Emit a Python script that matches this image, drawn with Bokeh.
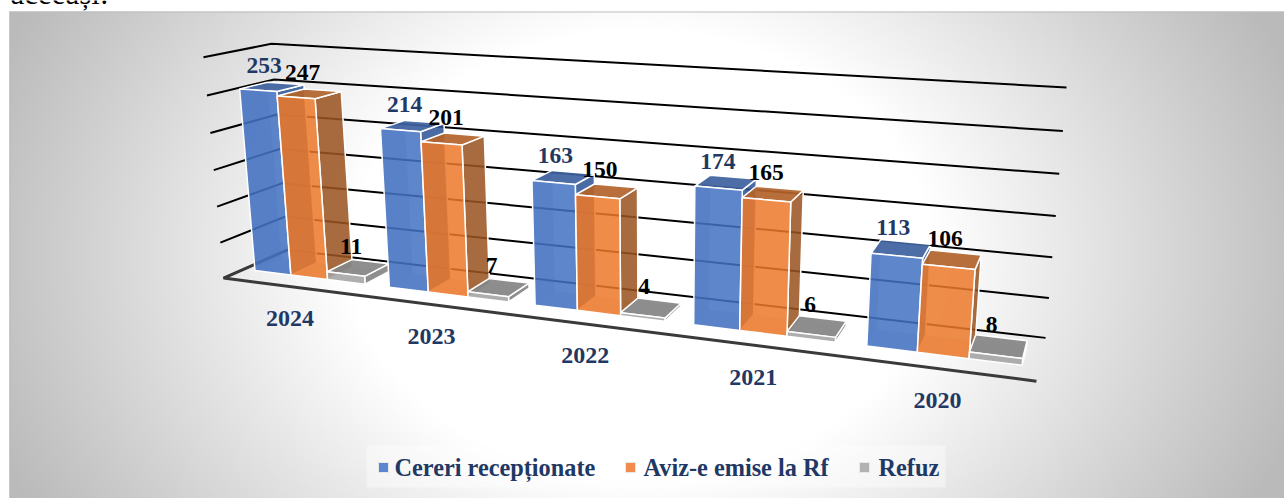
import numpy as np
from bokeh.plotting import figure
from bokeh.models import Range1d, ColumnDataSource
from bokeh.core.properties import value
from bokeh.embed import file_html
from bokeh.resources import INLINE

# ---- data
categories = ["2024", "2023", "2022", "2021", "2020"]
cereri = [253, 214, 163, 174, 113]
avize = [247, 201, 150, 165, 106]
refuz = [11, 7, 4, 6, 8]
legend_labels = ["Cereri recepționate", "Aviz-e emise la Rf", "Refuz"]
value_ticks = [0, 50, 100, 150, 200, 250, 300]

# ---- 3D camera: maps (category share, value share, depth share) to the page
W, H = 1284, 498
VMAX = 300.0
anchors3d = [(0,0,0),(1,0,0),(0,0,1),(1,0,1),(0,1,0),(0,1,1),(1,1,1)]
anchors2d = [(223,277),(1036,381),(287,250),(1045,337),(203,57),(271,43),(1066,87)]
A, b = [], []
for (X,Y,Z),(sx,sy) in zip(anchors3d, anchors2d):
    A.append([X,Y,Z,1,0,0,0,0,-sx*X,-sx*Y,-sx*Z]); b.append(sx)
    A.append([0,0,0,0,X,Y,Z,1,-sy*X,-sy*Y,-sy*Z]); b.append(sy)
m = np.linalg.lstsq(np.array(A,float), np.array(b,float), rcond=None)[0]
P = np.append(m,1.0).reshape(3,4)

def proj(u, v, d):
    q = P @ np.array([u, v/VMAX, d, 1.0])
    return q[0]/q[2], q[1]/q[2]

D0, D1 = 0.30, 0.72
NCAT = len(categories)
GAP = 0.175
BW = (1-GAP)/3

styles_s = [
    dict(front="#4472C4", side="#2F5597", top="#3F629E", inner="#2F5597", legend="#5B86CF", dx=-8),
    dict(front="#ED7A2C", side="#9A5522", top="#B2642C", inner="#A85A24", legend="#F18C4E", dx=-7),
    dict(front="#A5A5A5", side="#808080", top="#858585", inner="#808080", legend="#B2B2B2", dx=-7),
]

p = figure(width=W, height=H, output_backend="svg", toolbar_location=None,
           x_range=Range1d(0, W), y_range=Range1d(H, 0), min_border=0,
           styles={"position": "absolute", "left": "0px", "top": "0px"})
p.axis.visible = False
p.grid.visible = False
p.outline_line_color = None
p.background_fill_color = "white"
p.border_fill_color = "white"

# ---- background gradient
gx0, gy0 = 9, 11
gw, gh = W-gx0, H-gy0
yy, xx = np.mgrid[0:gh:2, 0:gw:2]
yy = yy + gy0; xx = xx + gx0
r = np.sqrt(((xx-640)/640.0)**2 + ((yy-254)/492.0)**2)
g = np.clip(255 - (r-0.46)*110, 186, 255).astype(np.uint32)
img = (255 << 24) | (g << 16) | (g << 8) | g
p.image_rgba(image=[img.astype(np.uint32)], x=gx0, y=gy0, dw=gw, dh=gh)
p.segment(x0=[gx0], y0=[11.5], x1=[W], y1=[11.5], line_color="#BDBDBD", line_width=1)
p.segment(x0=[gx0+0.5], y0=[11], x1=[gx0+0.5], y1=[H], line_color="#B8B8B8", line_width=1)

# ---- walls
for t_ in value_ticks:
    a = proj(0,t_,0); b_ = proj(0,t_,1); c = proj(1,t_,1)
    p.line([a[0],b_[0],c[0]],[a[1],b_[1],c[1]], line_color="#000000", line_width=2)
a = proj(0,0,1); b_ = proj(0,0,0); c = proj(1,0,0)
p.line([a[0],b_[0],c[0]],[a[1],b_[1],c[1]], line_color="#3A3A3A", line_width=3)

# ---- bars
series = [cereri, avize, refuz]
xs, ys, fills, falpha, lalpha = [], [], [], [], []
def face(pts, col, fa, la):
    q = [proj(*t_) for t_ in pts]
    xs.append([k[0] for k in q]); ys.append([k[1] for k in q]); fills.append(col)
    falpha.append(fa); lalpha.append(la)

for i in range(NCAT):
    for s, vals in enumerate(series):
        u0 = (i + GAP/2 + s*BW)/NCAT
        u1 = u0 + BW/NCAT
        v = vals[i]
        c = styles_s[s]
        face([(u0,0,D0),(u1,0,D0),(u1,0,D1),(u0,0,D1)], c["inner"], 0.25, 0)
        face([(u0,0,D1),(u1,0,D1),(u1,v,D1),(u0,v,D1)], c["inner"], 0.12, 0)
        face([(u0,0,D0),(u0,0,D1),(u0,v,D1),(u0,v,D0)], c["inner"], 0.3, 0)
        face([(u1,0,D0),(u1,0,D1),(u1,v,D1),(u1,v,D0)], c["side"], 0.85, 1)
        face([(u0,v,D0),(u1,v,D0),(u1,v,D1),(u0,v,D1)], c["top"], 0.92, 1)
        face([(u0,0,D0),(u1,0,D0),(u1,v,D0),(u0,v,D0)], c["front"], 0.84, 1)
p.patches(xs="xs", ys="ys", fill_color="fills", fill_alpha="fa", line_color="white", line_alpha="la",
          line_width=1.5, source=ColumnDataSource(dict(xs=xs, ys=ys, fills=fills, fa=falpha, la=lalpha)))

# ---- labels
SERIF = value("Liberation Serif")
lx, ly, lt, lc = [], [], [], []
for i in range(NCAT):
    for s, vals in enumerate(series):
        u = (i + GAP/2 + (s+0.5)*BW)/NCAT
        a = proj(u, vals[i], (D0+D1)/2)
        lx.append(a[0]+styles_s[s]["dx"]); ly.append(a[1]-14); lt.append(str(vals[i]))
        lc.append("#1F3864" if s == 0 else "#000000")
p.text(x="x", y="y", text="t", text_color="c", text_font=SERIF, text_font_style="bold",
       text_font_size="23.5px", text_align="center", text_baseline="bottom",
       source=ColumnDataSource(dict(x=lx, y=ly, t=lt, c=lc)))

cx, cy = [], []
for i in range(NCAT):
    a = proj((i+0.5)/NCAT, 0, 0)
    cx.append(a[0]); cy.append(a[1]+32)
p.text(x="x", y="y", text="t", text_color="#1F3864", text_font=SERIF, text_font_style="bold",
       text_font_size="24px", text_align="center", text_baseline="middle",
       source=ColumnDataSource(dict(x=cx, y=cy, t=categories)))

# ---- legend
p.quad(left=[366], right=[945], top=[445], bottom=[487], fill_color="white", fill_alpha=0.4, line_color=None)
sw_x = [378, 625, 859]
tx_x = [394, 643, 878]
leg_cols = [c["legend"] for c in styles_s]
p.rect(x=[k+5 for k in sw_x], y=[467]*3, width=10, height=10, fill_color=leg_cols, line_color="#E8E8E8")
p.text(x=tx_x, y=[467]*3, text=legend_labels, text_color="#1F3864", text_font=SERIF,
       text_font_style="bold", text_font_size="24.3px", text_baseline="middle")

# ---- cut-off line of the document above the chart
p.text(x=[10], y=[-7], text=["aceeași:"], text_color="black", text_font=SERIF,
       text_font_size="31px", text_baseline="alphabetic")

open("out.html", "w").write(file_html(p, INLINE))
